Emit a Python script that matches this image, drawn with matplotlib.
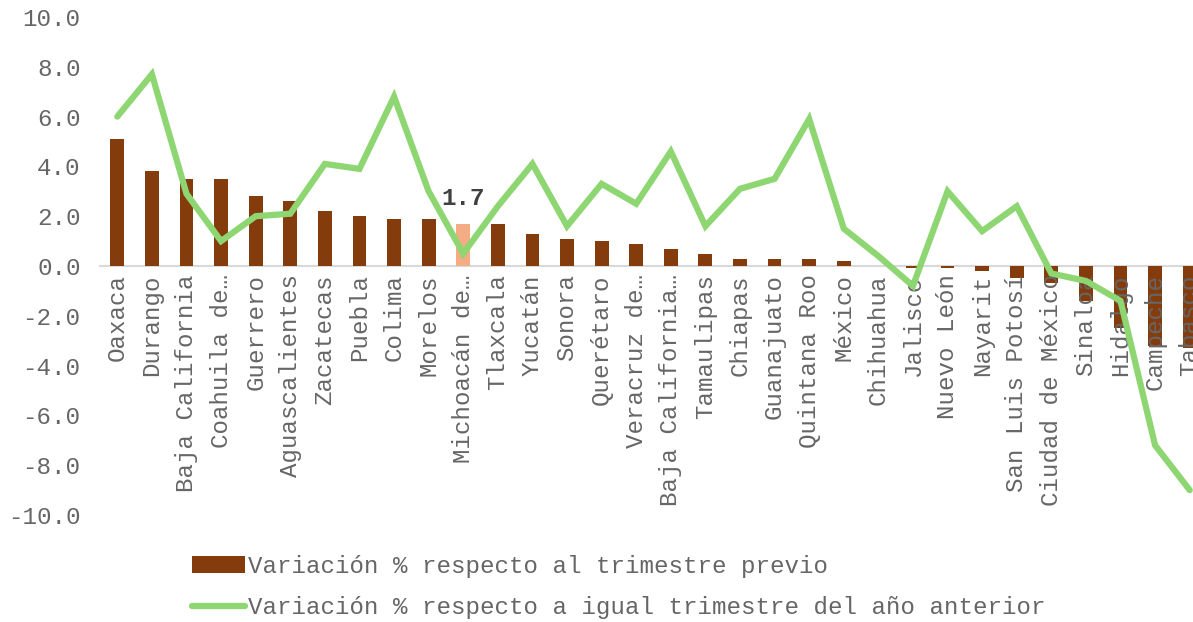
import matplotlib.pyplot as plt
import numpy as np

# --------- Data ---------
estados = [
    "Oaxaca", "Durango", "Baja California", "Coahuila de…", "Guerrero",
    "Aguascalientes", "Zacatecas", "Puebla", "Colima", "Morelos",
    "Michoacán de…", "Tlaxcala", "Yucatán", "Sonora", "Querétaro",
    "Veracruz de…", "Baja California…", "Tamaulipas", "Chiapas", "Guanajuato",
    "Quintana Roo", "México", "Chihuahua", "Jalisco", "Nuevo León",
    "Nayarit", "San Luis Potosí", "Ciudad de México", "Sinaloa", "Hidalgo",
    "Campeche", "Tabasco",
]
var_trimestral = [
    5.1, 3.8, 3.5, 3.5, 2.8, 2.6, 2.2, 2.0, 1.9, 1.9,
    1.7, 1.7, 1.3, 1.1, 1.0, 0.9, 0.7, 0.5, 0.3, 0.3,
    0.3, 0.2, 0.0, -0.1, -0.1, -0.2, -0.5, -0.7, -1.4, -2.5,
    -3.2, -3.3,
]
var_anual = [
    6.0, 7.7, 2.9, 1.0, 2.0, 2.1, 4.1, 3.9, 6.8, 3.0,
    0.5, 2.4, 4.1, 1.6, 3.3, 2.5, 4.6, 1.6, 3.1, 3.5,
    5.9, 1.5, 0.4, -0.8, 3.0, 1.4, 2.4, -0.3, -0.6, -1.4,
    -7.2, -9.0,
]
destacado = "Michoacán de…"
yticks = [10, 8, 6, 4, 2, 0, -2, -4, -6, -8, -10]

# --------- Colors / font ---------
BAR = "#843C0C"
BAR_HI = "#F4AC84"
LINE = "#8DD672"
TXT = "#666666"
plt.rcParams["font.family"] = ["Liberation Mono", "DejaVu Sans Mono"]
FS = 17.4

# --------- Plot ---------
fig = plt.figure(figsize=(11.93, 6.22), dpi=100)
ax = fig.add_axes([100 / 1193, 1 - 515 / 622, 1107 / 1193, 498 / 622])

# zero line as the x axis (do this before styling ticks, it resets them)
for s in ["top", "right", "left"]:
    ax.spines[s].set_visible(False)
ax.spines["bottom"].set_position(("data", 0))
ax.spines["bottom"].set_color("#D9D9D9")
ax.spines["bottom"].set_linewidth(1.5)
ax.spines["bottom"].set_zorder(1)

x = np.arange(len(estados))
colors = [BAR_HI if e == destacado else BAR for e in estados]
bars = ax.bar(x, var_trimestral, width=0.4, color=colors, zorder=2,
              label="Variación % respecto al trimestre previo")
linea, = ax.plot(x, var_anual, color=LINE, linewidth=4.5, zorder=4,
                 solid_joinstyle="miter", solid_capstyle="round",
                 label="Variación % respecto a igual trimestre del año anterior")

i = estados.index(destacado)
ax.annotate(f"{var_trimestral[i]:.1f}", (x[i], var_trimestral[i]),
            xytext=(0, 10), textcoords="offset points", ha="center", va="bottom",
            fontsize=FS, fontweight="bold", color="#404040", zorder=5)

ax.set_xlim(-0.5, len(estados) - 0.5)
ax.set_ylim(-10, 10)
ax.set_yticks(yticks)
ax.set_yticklabels([f"{v:.1f}" for v in yticks])
ax.set_xticks(x)
ax.set_xticklabels(estados, rotation=90, va="top", ha="center")
ax.tick_params(axis="both", length=0, labelsize=FS, labelcolor=TXT)
ax.tick_params(axis="y", pad=14)
ax.tick_params(axis="x", pad=6)
# labels sit over the bars but under the line
ax.xaxis.set_zorder(3)

fig.legend([bars, linea], [bars.get_label(), linea.get_label()],
           loc="upper left", bbox_to_anchor=(192 / 1193, 1 - 555 / 622),
           frameon=False, fontsize=FS, labelcolor=TXT, ncol=1,
           handlelength=2.2, handletextpad=0.1, labelspacing=0.75,
           borderaxespad=0, borderpad=0)

fig.savefig("out.png", dpi=100)
